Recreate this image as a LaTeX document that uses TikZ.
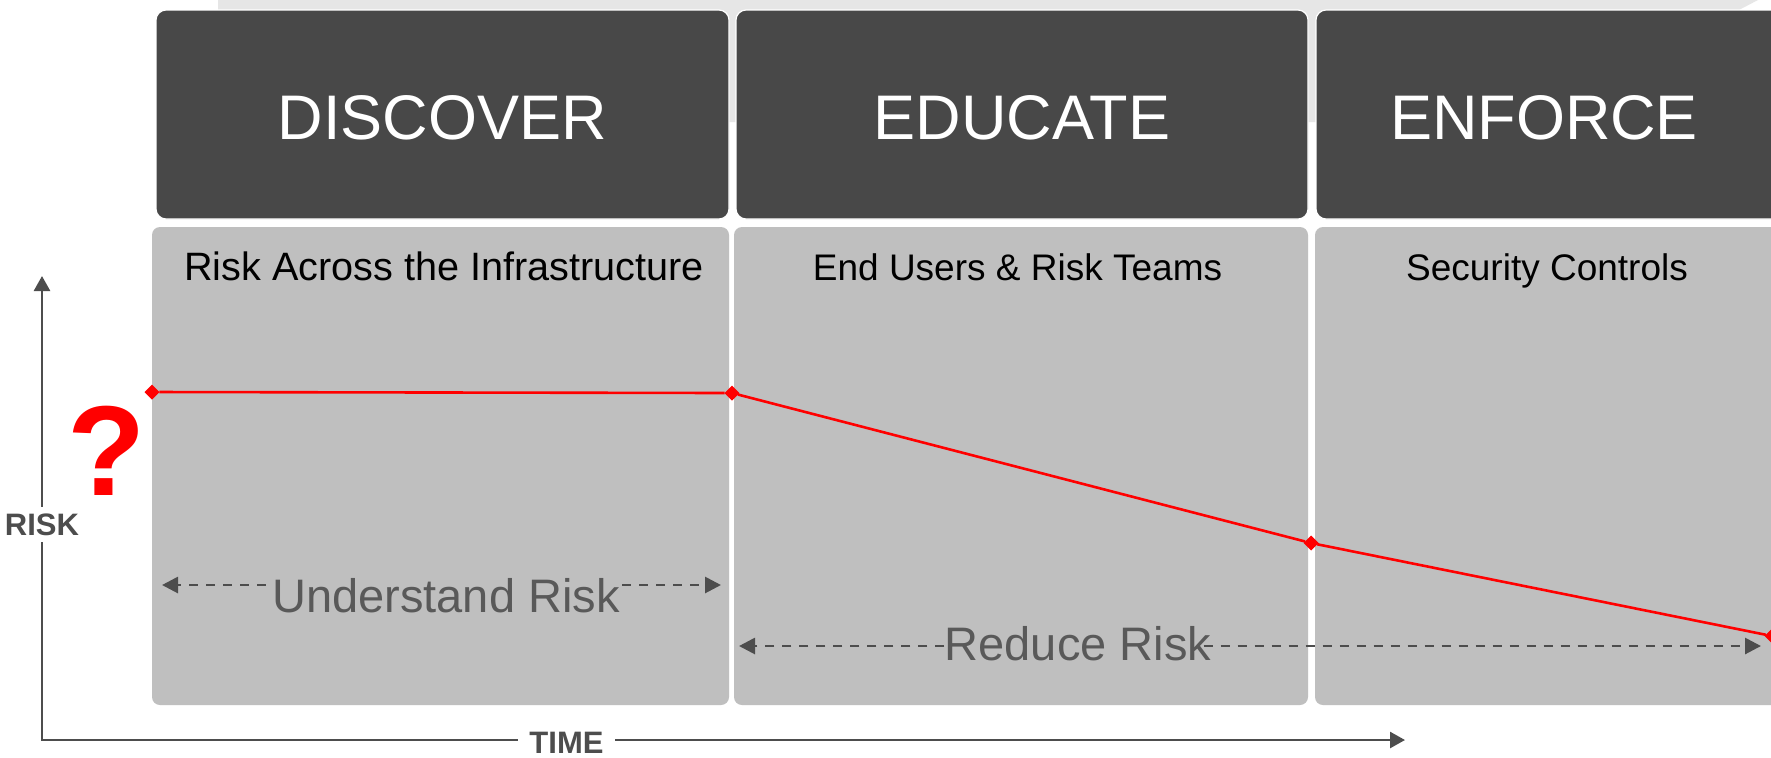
\documentclass[tikz,border=0pt]{standalone}
\usepackage{fontspec}
\setmainfont{Liberation Sans}
\usetikzlibrary{arrows.meta,shapes.geometric,fit}
\definecolor{hdrgray}{HTML}{484848}
\definecolor{subgray}{HTML}{BFBFBF}
\definecolor{bandgray}{HTML}{E6E6E6}
\definecolor{axisgray}{HTML}{4D4D4D}
\definecolor{lblgray}{HTML}{595959}
\definecolor{riskred}{HTML}{FF0000}
\begin{document}
\begin{tikzpicture}[x=0.5pt,y=-0.5pt,
  hdrbox/.style={fill=hdrgray, draw=white, line width=0.6pt, rounded corners=5pt, inner sep=0pt, outer sep=0pt},
  subbox/.style={fill=subgray, rounded corners=4pt, inner sep=0pt, outer sep=0pt},
  hdrtxt/.style={text=white, font=\fontsize{31.5}{36}\selectfont, anchor=base, inner sep=0pt},
  subtxt/.style={text=black, font=\fontsize{18.5}{22}\selectfont, anchor=base, inner sep=0pt},
  phase/.style={text=lblgray, font=\fontsize{23.5}{28}\selectfont, anchor=base, inner sep=0pt},
  axis/.style={draw=axisgray, line width=1.3pt, {Triangle[length=7.5pt,width=8pt]}-{Triangle[length=7.5pt,width=8pt]}},
  axlbl/.style={text=axisgray, fill=white, font=\bfseries\fontsize{15.5}{18}\selectfont, inner xsep=5.5pt, inner ysep=3.5pt},
  spanarrow/.style={draw=axisgray, line width=1.4pt, dash pattern=on 4.5pt off 4pt, -{Triangle[length=8pt,width=8pt]}},
  riskpt/.style={diamond, fill=riskred, inner sep=0pt, outer sep=0pt, minimum width=7.5pt, minimum height=7.5pt},
  riskline/.style={draw=riskred, line width=1.3pt},
]
\clip (0,0) rectangle (1771,757);
\fill[white] (0,0) rectangle (1771,757);
% light band at top
\fill[bandgray] (218,0) -- (1758,0) -- (1735,12) -- (1735,122) -- (218,122) -- cycle;

% header boxes
\node[hdrbox, fit={(156,10) (729,219)}] (h1) {};
\node[hdrbox, fit={(736,10) (1308,219)}] (h2) {};
\node[hdrbox, fit={(1316,10) (1790,219)}] (h3) {};
% sub boxes
\node[subbox, fit={(152,227) (729,705)}] (s1) {};
\node[subbox, fit={(734,227) (1308,705)}] (s2) {};
\node[subbox, fit={(1315,227) (1790,705)}] (s3) {};

% header texts
\node[hdrtxt] (t1) at (442.5,139) {DISCOVER};
\node[hdrtxt] (t2) at (1022,139) {EDUCATE};
\node[hdrtxt] (t3) at (1544,139) {ENFORCE};
% sub texts
\node[subtxt, font=\fontsize{19.8}{22}\selectfont] (u1) at (444,280) {Risk Across the Infrastructure};
\node[subtxt] (u2) at (1017.5,280) {End Users \& Risk Teams};
\node[subtxt] (u3) at (1547,280) {Security Controls};

% axes
\coordinate (O) at (42,740);
\coordinate (ytip) at (42,276);
\coordinate (xtip) at (1405,740);
\draw[axis] (ytip) -- (O) -- (xtip);
\node[axlbl] (risk) at (42,524.5) {RISK};
\node[axlbl] (time) at (566.5,742.5) {TIME};

% question mark
\node[text=riskred, font=\bfseries\fontsize{64}{70}\selectfont, anchor=base, inner sep=0pt] (q) at (107,495) {?};

% phase spans
\node[phase] (und) at (446,612) {Understand Risk};
\coordinate (uL) at (162,585);
\coordinate (uR) at (721,585);
\draw[spanarrow] ([xshift=-3pt]und.west |- uL) -- (uL);
\draw[spanarrow] ([xshift=1pt]und.east |- uR) -- (uR);

\node[phase] (red) at (1078,660) {Reduce Risk};
\coordinate (rL) at (739,646);
\coordinate (rR) at (1761,646);
\draw[spanarrow] (red.west |- rL) -- (rL);
\draw[spanarrow] ([xshift=-4pt]red.east |- rR) -- (rR);

% risk curve
\node[riskpt] (p0) at (152,392) {};
\node[riskpt] (p1) at (732,393) {};
\node[riskpt] (p2) at (1311,543) {};
\node[riskpt] (p3) at (1772,636) {};
\draw[riskline] (p0) -- (p1) -- (p2) -- (p3);
\end{tikzpicture}
\end{document}
